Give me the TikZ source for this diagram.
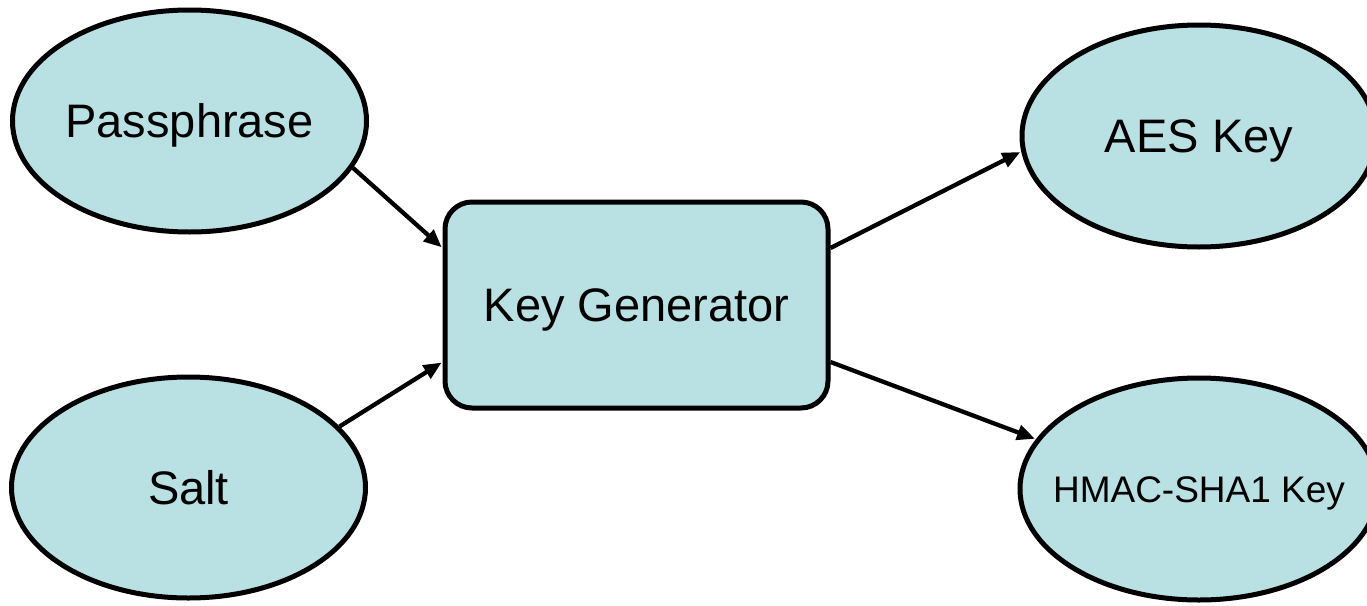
\documentclass[tikz,border=0pt]{standalone}
\usepackage{fontspec}
\setmainfont{Liberation Sans}
\usetikzlibrary{shapes.geometric,arrows.meta}

\definecolor{boxfill}{RGB}{185,224,227}

\tikzset{
  % cap height of Liberation Sans is 0.716 em: the box is set to the caps so they sit centred
  bigtext/.style={font=\fontsize{47}{52}\selectfont, text height=33.6pt, text depth=0pt},
  smalltext/.style={font=\fontsize{37}{42}\selectfont, text height=26.5pt, text depth=0pt},
  bubble/.style={ellipse, draw=black, fill=boxfill, line width=5pt,
                 minimum width=354pt, minimum height=222pt, inner sep=0pt, bigtext},
  genbox/.style={rectangle, rounded corners=27pt, draw=black, fill=boxfill,
                 line width=5pt, minimum width=383pt, minimum height=206pt, inner sep=0pt, bigtext},
  flow/.style={line width=4.3pt, -{Triangle[length=18pt,width=15pt]}, shorten >=1pt}
}

\begin{document}
\begin{tikzpicture}[x=1pt, y=-1pt]
  \useasboundingbox (0,0) rectangle (1367,605);

  % inputs
  \node[bubble] (pass) at (189.5,121) {Passphrase};
  \node[bubble, minimum height=221pt] (salt) at (188.5,487.5) {Salt};

  % generator
  \node[genbox] (gen) at (636.5,305) {Key Generator};

  % outputs
  \node[bubble] (aes) at (1199,136) {AES Key};
  \node[bubble, minimum width=358pt, inner xsep=-30pt, smalltext] (hmac) at (1199,489) {HMAC-SHA1 Key};

  % connectors
  \draw[flow] (pass.-16.3) -- ([yshift=57pt]gen.west);
  \draw[flow] (salt.22.8) -- ([yshift=-57pt]gen.west);
  \draw[flow] ([yshift=57pt]gen.east) -- (aes.185.8);
  \draw[flow] ([yshift=-57pt]gen.east) -- (hmac.163.4);
\end{tikzpicture}
\end{document}
